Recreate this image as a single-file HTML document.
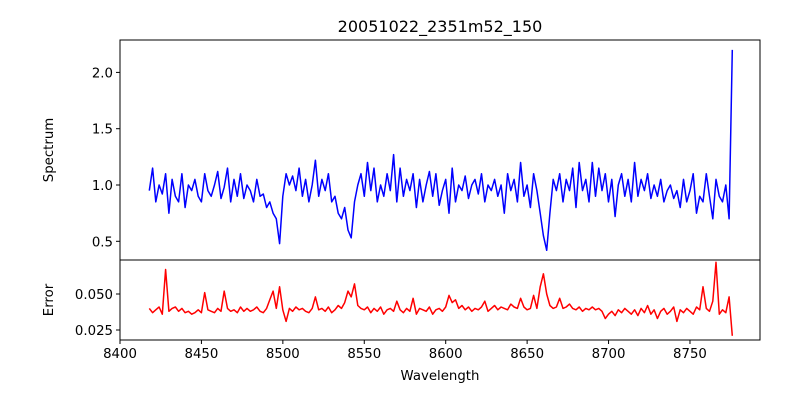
<!DOCTYPE html>
<html><head><meta charset="utf-8"><style>
body{margin:0;background:#fff;}
svg text{font-family:"DejaVu Sans","Liberation Sans",sans-serif;fill:#000;}
</style></head><body>
<svg id="chart" width="800" height="400" xmlns="http://www.w3.org/2000/svg">
<rect width="800" height="400" fill="#fff"/>
<text x="440" y="32" font-size="16" text-anchor="middle">20051022_2351m52_150</text>
<text transform="translate(53,150) rotate(-90)" font-size="13.3" text-anchor="middle">Spectrum</text>
<text transform="translate(53,300) rotate(-90)" font-size="13.3" text-anchor="middle">Error</text>
<text x="440" y="380" font-size="13.3" text-anchor="middle">Wavelength</text>
<g id="g"></g>
</svg>
<script>
const start = 8418, step = 2;
const xTicks = [8400,8450,8500,8550,8600,8650,8700,8750];
const specTicks = [0.5,1.0,1.5,2.0];
const specTickLabels = ["0.5","1.0","1.5","2.0"];
const errTicks = [0.025,0.050];
const errTickLabels = ["0.025","0.050"];
const spectrum = [
0.95,1.15,0.85,1.0,0.92,1.1,0.75,1.05,0.9,0.85,
1.1,0.8,1.0,0.95,1.05,0.9,0.85,1.1,0.95,0.9,
1.0,1.12,0.88,0.98,1.15,0.85,1.05,0.9,1.1,0.88,
1.0,0.95,0.85,1.05,0.9,0.92,0.8,0.85,0.75,0.7,
0.48,0.9,1.1,1.0,1.08,0.95,1.15,0.9,1.05,0.85,
1.0,1.22,0.9,1.05,0.95,1.1,0.85,0.9,0.75,0.7,
0.8,0.6,0.53,0.85,1.0,1.1,0.9,1.2,0.95,1.15,
0.85,1.0,0.9,1.1,0.95,1.27,0.85,1.15,0.9,1.05,
0.95,1.1,0.8,1.05,0.85,1.0,1.12,0.9,1.1,0.82,
0.95,1.05,0.75,1.15,0.85,1.0,0.95,1.08,0.88,1.0,
1.05,0.92,1.1,0.85,1.0,0.95,1.05,0.9,1.0,0.75,
1.1,0.95,1.05,0.85,1.2,0.9,1.0,0.8,1.1,0.95,
0.75,0.55,0.42,0.75,1.05,0.95,1.1,0.85,1.05,0.95,
1.15,0.8,1.2,0.95,1.05,0.85,1.2,0.9,1.15,0.95,
1.1,0.85,1.05,0.72,1.0,1.1,0.9,1.05,0.85,1.2,
0.9,1.05,0.95,1.1,0.88,1.0,0.9,1.05,0.85,0.95,
1.0,0.88,0.95,0.8,1.05,0.85,0.95,1.1,0.75,0.9,
0.85,1.1,0.9,0.7,1.05,0.9,0.85,1.0,0.7,2.2];
const error = [
0.040,0.037,0.039,0.041,0.036,0.067,0.038,0.040,0.041,0.038,
0.040,0.037,0.038,0.036,0.037,0.039,0.037,0.051,0.039,0.038,
0.037,0.040,0.038,0.052,0.040,0.038,0.039,0.037,0.041,0.038,
0.040,0.038,0.039,0.041,0.038,0.037,0.040,0.046,0.052,0.040,
0.055,0.039,0.031,0.040,0.038,0.041,0.039,0.040,0.038,0.037,
0.040,0.048,0.039,0.040,0.038,0.041,0.037,0.039,0.042,0.040,
0.044,0.052,0.048,0.057,0.042,0.040,0.039,0.041,0.037,0.040,
0.038,0.041,0.036,0.039,0.040,0.038,0.045,0.039,0.037,0.040,
0.038,0.047,0.036,0.040,0.039,0.038,0.041,0.036,0.039,0.040,
0.038,0.041,0.049,0.044,0.046,0.040,0.042,0.039,0.041,0.038,
0.040,0.039,0.041,0.045,0.038,0.040,0.042,0.039,0.041,0.040,
0.039,0.043,0.041,0.040,0.047,0.041,0.039,0.040,0.049,0.040,
0.055,0.064,0.050,0.042,0.040,0.041,0.047,0.040,0.041,0.043,
0.040,0.039,0.041,0.038,0.040,0.039,0.041,0.039,0.040,0.038,
0.033,0.036,0.038,0.035,0.039,0.037,0.040,0.038,0.036,0.039,
0.035,0.040,0.037,0.042,0.036,0.039,0.033,0.038,0.040,0.036,
0.038,0.041,0.031,0.039,0.037,0.040,0.038,0.036,0.041,0.039,
0.055,0.040,0.038,0.045,0.072,0.036,0.039,0.037,0.048,0.021];

const L=120,R=760,T1=40,B1=260,T2=260,B2=340;
const xs = w => L + (w-8400)*(R-L)/393;
const ys1 = v => 185 - (v-1.0)*112.6;
const ys2 = v => 294 - (v-0.050)*1440;
const NS="http://www.w3.org/2000/svg";
const g=document.getElementById('g');
function mk(tag,attrs){const e=document.createElementNS(NS,tag);for(const k in attrs)e.setAttribute(k,attrs[k]);g.appendChild(e);return e;}

function line(arr,sy,color,name){
  const pts=arr.map((v,i)=>xs(start+i*step).toFixed(1)+','+sy(v).toFixed(1)).join(' ');
  const p=mk('polyline',{points:pts,fill:'none',stroke:color,'stroke-width':1.5,'stroke-linejoin':'round'});
  
  
}
line(spectrum,ys1,'#0000ff','spectrum-line');
line(error,ys2,'#ff0000','error-line');

const f1=mk('rect',{x:L,y:T1,width:R-L,height:B1-T1,fill:'none',stroke:'#000','stroke-width':1});


const f2=mk('rect',{x:L,y:T2,width:R-L,height:B2-T2,fill:'none',stroke:'#000','stroke-width':1});



xTicks.forEach(t=>{
  const x=xs(t);
  const tk=mk('line',{x1:x,x2:x,y1:B2,y2:B2+4,stroke:'#000','stroke-width':1});
  
  
  const tx=mk('text',{x:x,y:B2+18,'font-size':13.3,'text-anchor':'middle'});
  tx.textContent=t;
  
  
});
specTicks.forEach((t,i)=>{
  const y=ys1(t);
  const tk=mk('line',{x1:L-4,x2:L,y1:y,y2:y,stroke:'#000','stroke-width':1});
  
  
  const tx=mk('text',{x:L-7,y:y+5,'font-size':13.3,'text-anchor':'end'});
  tx.textContent=specTickLabels[i];
  
  
});
errTicks.forEach((t,i)=>{
  const y=ys2(t);
  const tk=mk('line',{x1:L-4,x2:L,y1:y,y2:y,stroke:'#000','stroke-width':1});
  
  
  const tx=mk('text',{x:L-7,y:y+5,'font-size':13.3,'text-anchor':'end'});
  tx.textContent=errTickLabels[i];
  
  
});
</script>
</body></html>
